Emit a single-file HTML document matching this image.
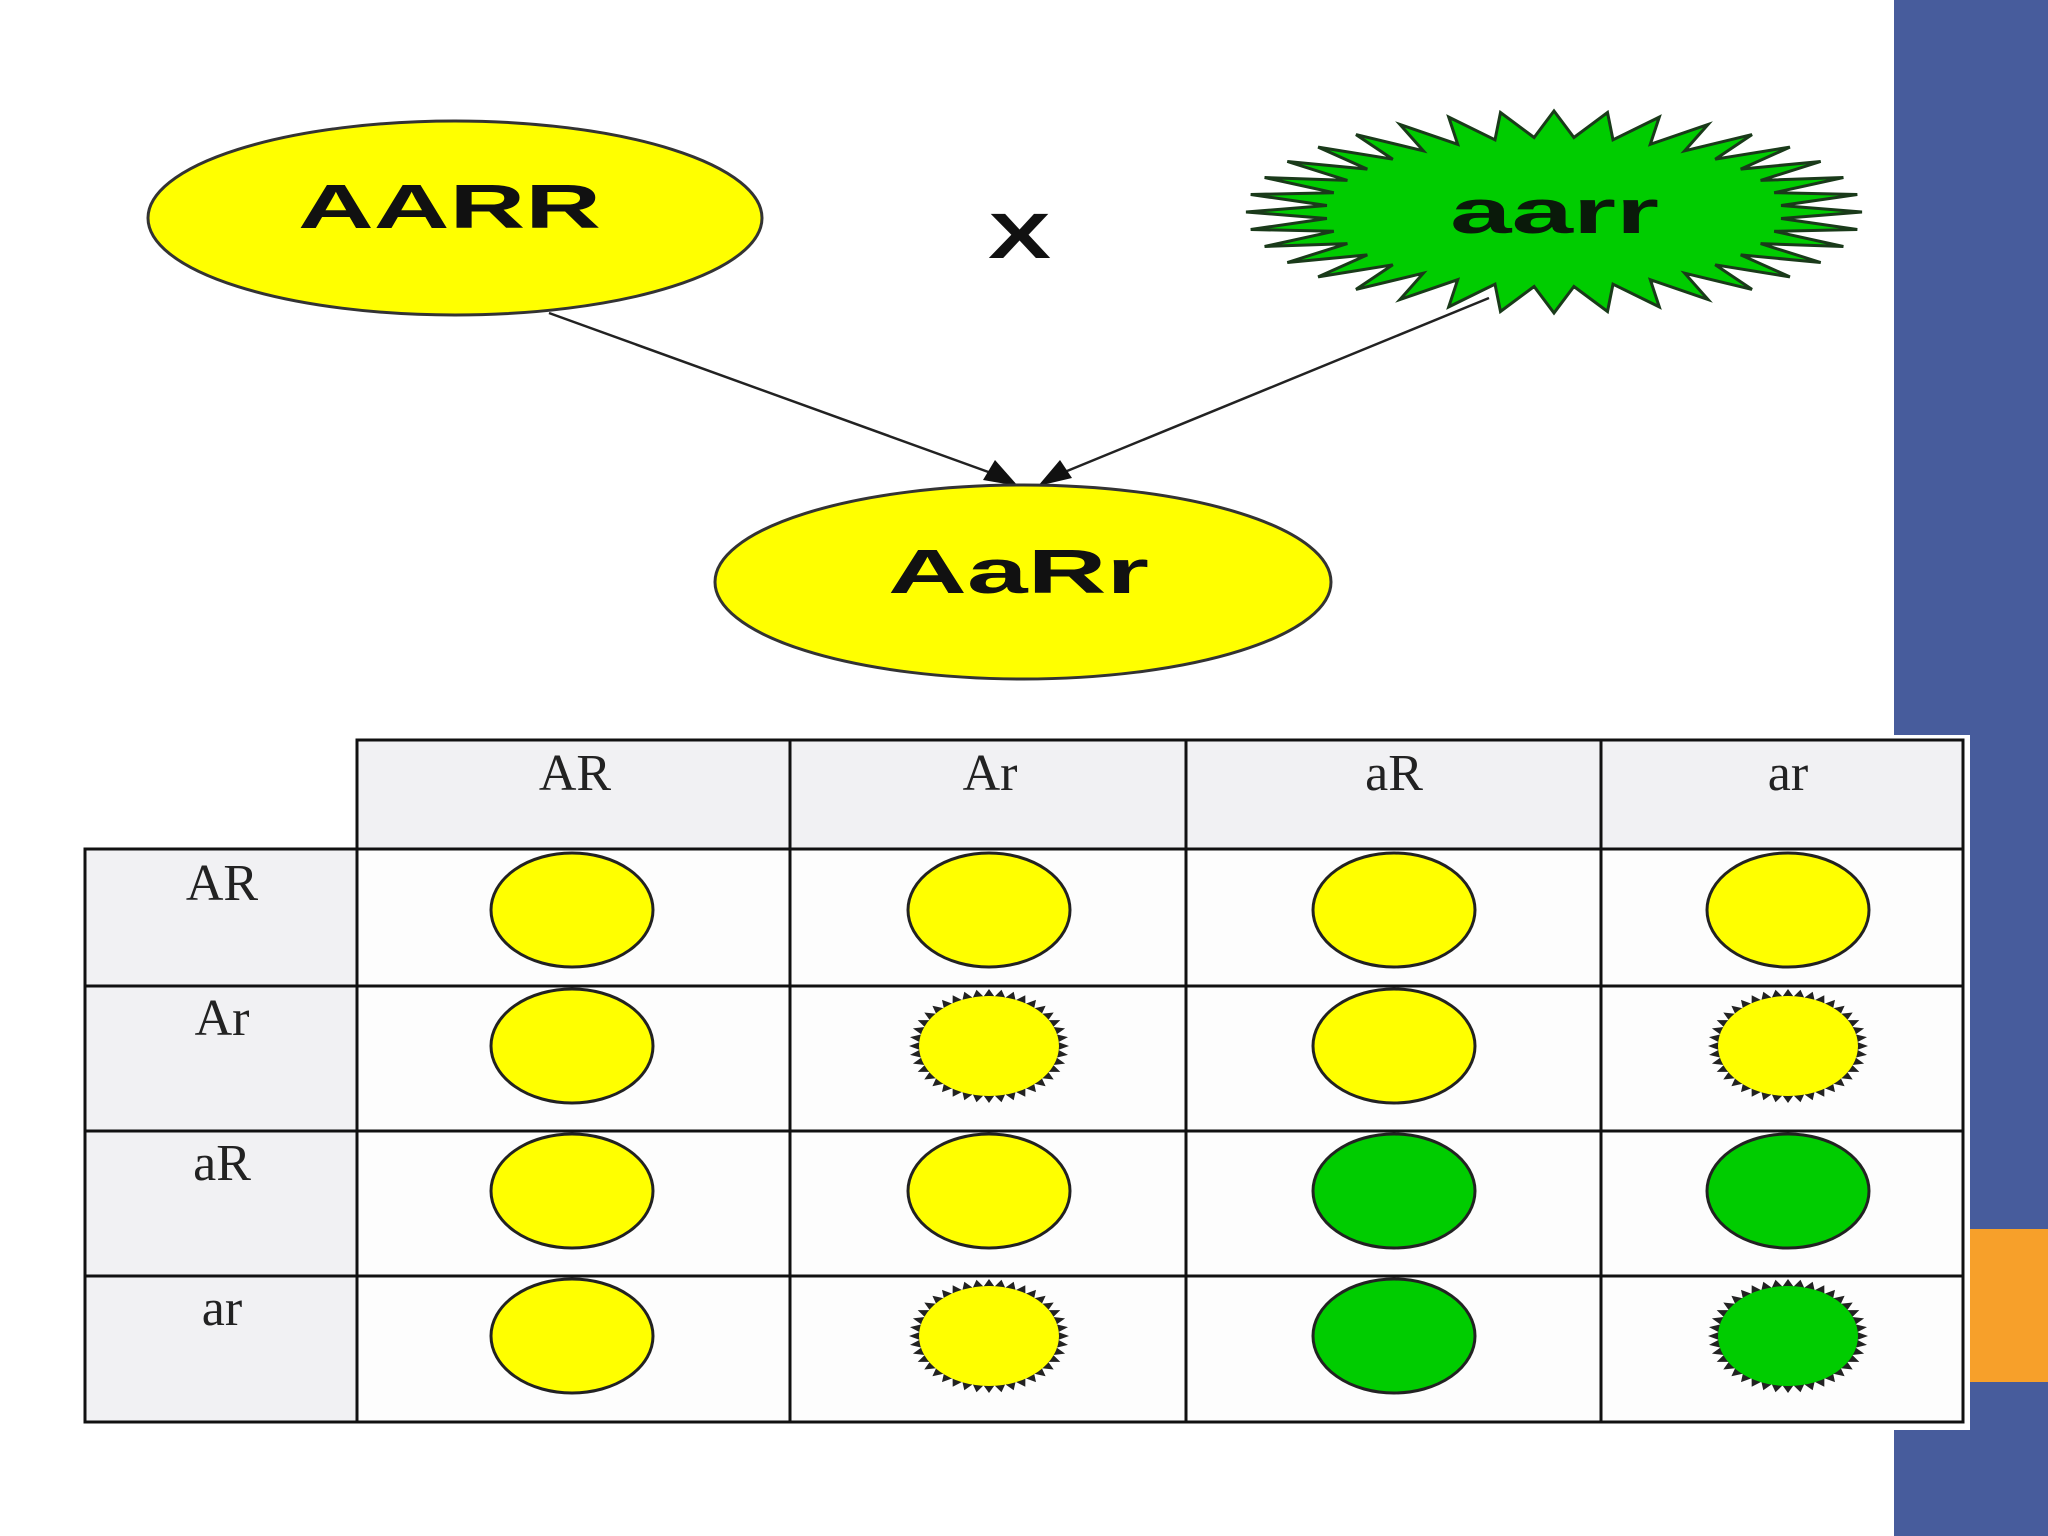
<!DOCTYPE html>
<html><head><meta charset="utf-8"><style>
html,body{margin:0;padding:0;background:#fff;}
body{width:2048px;height:1536px;overflow:hidden;position:relative;}
</style></head><body>
<svg width="2048" height="1536" viewBox="0 0 2048 1536" xmlns="http://www.w3.org/2000/svg" style="position:absolute;left:0;top:0">
<rect x="0" y="0" width="2048" height="1536" fill="#ffffff"/>
<rect x="1894" y="0" width="154" height="1536" fill="#475c9c"/>
<rect x="1894" y="735" width="76" height="695" fill="#ffffff"/>
<rect x="1970" y="1229" width="78" height="153" fill="#f7a02a"/>

<!-- arrows -->
<line x1="549" y1="313" x2="1005" y2="478" stroke="#222" stroke-width="2.5"/>
<line x1="1489" y1="298" x2="1050" y2="478" stroke="#222" stroke-width="2.5"/>
<polygon points="1018,486 983,480 995,460" fill="#111"/>
<polygon points="1038,486 1060,460 1072,478" fill="#111"/>

<!-- AARR -->
<ellipse cx="455" cy="218" rx="307" ry="97" fill="#ffff00" stroke="#333" stroke-width="3"/>
<text x="298" y="228" textLength="303" lengthAdjust="spacingAndGlyphs" font-family="Liberation Sans, sans-serif" font-weight="bold" font-size="62" fill="#111">AARR</text>
<text x="988" y="258" textLength="63" lengthAdjust="spacingAndGlyphs" font-family="Liberation Sans, sans-serif" font-weight="bold" font-size="64" fill="#111">X</text>

<!-- aarr star -->
<polygon id="star" fill="#00cc00" stroke="#1a3a1a" stroke-width="3" points=""/>
<text x="1450" y="233" textLength="209" lengthAdjust="spacingAndGlyphs" font-family="Liberation Sans, sans-serif" font-weight="bold" font-size="62" fill="#0a1a0a">aarr</text>

<!-- AaRr -->
<ellipse cx="1023" cy="582" rx="308" ry="97" fill="#ffff00" stroke="#333" stroke-width="3"/>
<text x="888" y="593" textLength="261" lengthAdjust="spacingAndGlyphs" font-family="Liberation Sans, sans-serif" font-weight="bold" font-size="62" fill="#111">AaRr</text>

<!-- table -->
<g stroke="#111" stroke-width="3">
<rect x="357" y="740" width="1606" height="109" fill="#f1f1f3"/>
<rect x="85" y="849" width="272" height="573" fill="#f1f1f3"/>
<rect x="357" y="849" width="1606" height="573" fill="#fdfdfd"/>
<line x1="790" y1="740" x2="790" y2="1422"/>
<line x1="1186" y1="740" x2="1186" y2="1422"/>
<line x1="1601" y1="740" x2="1601" y2="1422"/>
<line x1="85" y1="986" x2="1963" y2="986"/>
<line x1="85" y1="1131" x2="1963" y2="1131"/>
<line x1="85" y1="1276" x2="1963" y2="1276"/>
</g>
<g font-family="Liberation Serif, serif" font-size="52" fill="#222" text-anchor="middle">
<text x="575" y="790">AR</text><text x="990" y="790">Ar</text><text x="1394" y="790">aR</text><text x="1788" y="790">ar</text>
<text x="222" y="900">AR</text><text x="222" y="1035">Ar</text><text x="222" y="1180">aR</text><text x="222" y="1325">ar</text>
</g>
<g id="cells"></g>
</svg>
<script>
(function(){
var ns="http://www.w3.org/2000/svg";
var pts=[],n=36,cx=1554,cy=212;
for(var i=0;i<n*2;i++){var a=Math.PI*i/n;var f=i%2?0.74:1;pts.push((cx+Math.cos(a)*308*f).toFixed(1)+","+(cy+Math.sin(a)*101*f).toFixed(1));}
document.getElementById("star").setAttribute("points",pts.join(" "));
var cols=[572,989,1394,1788],rows=[910,1046,1191,1336];
var grid=[["y","y","y","y"],["y","ys","y","ys"],["y","y","g","g"],["y","ys","g","gs"]];
var g=document.getElementById("cells");
for(var r=0;r<4;r++)for(var c=0;c<4;c++){
 var t=grid[r][c],fill=t[0]=="y"?"#ffff00":"#00cc00",x=cols[c],y=rows[r];
 if(t.length>1){
  var p=[],m=40;
  for(var k=0;k<m*2;k++){var a=Math.PI*k/m;var f=k%2?0.87:1;p.push((x+Math.cos(a)*80*f).toFixed(1)+","+(y+Math.sin(a)*57*f).toFixed(1));}
  var pg=document.createElementNS(ns,"polygon");pg.setAttribute("points",p.join(" "));pg.setAttribute("fill","#222");g.appendChild(pg);
  var e=document.createElementNS(ns,"ellipse");e.setAttribute("cx",x);e.setAttribute("cy",y);e.setAttribute("rx",70);e.setAttribute("ry",50);e.setAttribute("fill",fill);g.appendChild(e);
 }else{
  var e=document.createElementNS(ns,"ellipse");e.setAttribute("cx",x);e.setAttribute("cy",y);e.setAttribute("rx",81);e.setAttribute("ry",57);e.setAttribute("fill",fill);e.setAttribute("stroke","#222");e.setAttribute("stroke-width","3");g.appendChild(e);
 }
}
})();
</script>
</body></html>
